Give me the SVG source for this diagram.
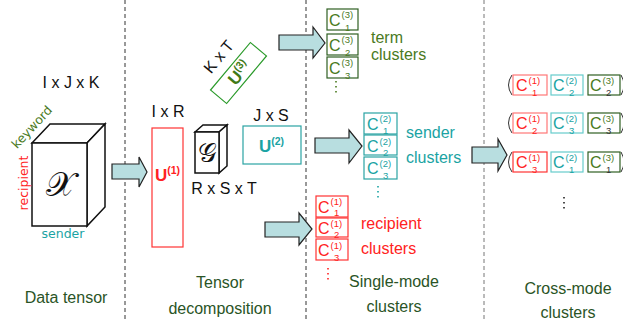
<svg xmlns="http://www.w3.org/2000/svg" width="623" height="321" viewBox="0 0 623 321">
<style>
text{font-family:"Liberation Sans",Arial,sans-serif}
.sep{stroke:#333;stroke-width:1;stroke-dasharray:4 3;fill:none}
.arr{fill:#b8dee0;stroke:#222;stroke-width:1.2}
.dim{font-size:16px;fill:#111}
.lbl{font-size:16px;fill:#2a5426;text-anchor:middle}
.edge{stroke:#111;stroke-width:1.5;fill:#fff}
.c{font-size:16px}
.s{font-size:9.5px}
.red{fill:#f22;stroke:none}
.teal{fill:#1aa3a3;stroke:none}
.grn{fill:#4a7a1e;stroke:none}
.bred{fill:#fff;stroke:#f33;stroke-width:1.2}
.bteal{fill:#fff;stroke:#2aa3a3;stroke-width:1.2}
.bgrn{fill:#fff;stroke:#2f5f22;stroke-width:1.2}
.dots{stroke-width:1.6;stroke-dasharray:1.6 3.4;fill:none}
.hand{font-family:"DejaVu Sans",sans-serif;font-size:12.5px}
.ub{font-size:17px;font-weight:bold}
</style>

<g id="separators">
<line class="sep" x1="125" y1="0" x2="125" y2="321"/>
<line class="sep" x1="306" y1="0" x2="306" y2="321"/>
<line class="sep" x1="484" y1="0" x2="484" y2="321" style="stroke:#777"/>
</g>

<g id="data-tensor">
<text class="dim" x="71" y="88" text-anchor="middle">I x J x K</text>
<polygon class="edge" points="32,143 50,124 105,124 87,143"/>
<polygon class="edge" points="87,143 105,124 105,207 87,226"/>
<rect class="edge" x="32" y="143" width="55" height="83"/>
<text x="60" y="196" text-anchor="middle" style="font-family:'DejaVu Serif',serif;font-size:34px;fill:#111">𝒳</text>
<text class="hand" transform="translate(35,130) rotate(-47)" text-anchor="middle" style="fill:#4a7a1e">keyword</text>
<text class="hand" transform="translate(28,183) rotate(-90)" text-anchor="middle" style="fill:#f22">recipient</text>
<text class="hand" x="63" y="238" text-anchor="middle" style="fill:#1aa3a3">sender</text>
</g>

<g id="u1">
<text class="dim" x="168" y="117" text-anchor="middle">I x R</text>
<rect x="152" y="128" width="31" height="119" fill="#fff" stroke="#f33" stroke-width="1.2"/>
<text x="155" y="181" class="ub" style="fill:#f22">U<tspan style="font-size:10.5px" dy="-7">(1)</tspan></text>
</g>

<g id="core">
<polygon class="edge" points="195,132 203,125 227,125 219,132"/>
<polygon class="edge" points="219,132 227,125 227,166 219,173"/>
<rect class="edge" x="195" y="132" width="24" height="41"/>
<text x="207" y="162" text-anchor="middle" style="font-family:'DejaVu Serif',serif;font-size:26px;fill:#111">𝒢</text>
<text class="dim" x="224" y="194" text-anchor="middle">R x S x T</text>
</g>

<g id="u2">
<text class="dim" x="271" y="121" text-anchor="middle">J x S</text>
<rect x="243" y="126" width="58" height="38" fill="#fff" stroke="#2aa3a3" stroke-width="1.2"/>
<text x="259" y="152" class="ub" style="fill:#1aa3a3">U<tspan style="font-size:10.5px" dy="-7">(2)</tspan></text>
</g>

<g id="u3">
<text class="dim" transform="translate(219,57) rotate(-50)" text-anchor="middle" dy="5">K x T</text>
<g transform="translate(238.5,73) rotate(-50)">
<rect x="-31" y="-10.5" width="62" height="21" fill="#fff" stroke="#2a9a2a" stroke-width="1.2"/>
<text x="-12" y="6.5" class="ub" style="fill:#3f7a16">U<tspan style="font-size:10.5px" dy="-7">(3)</tspan></text>
</g>
</g>

<g id="term-clusters">
<g transform="translate(327,9)"><rect class="bgrn" width="31" height="21"/><text class="grn"><tspan class="c" x="2" y="17">C</tspan><tspan class="s" x="14.5" y="9">(3)</tspan><tspan class="s" x="18" y="21.5">1</tspan></text></g>
<g transform="translate(327,34)"><rect class="bgrn" width="31" height="21"/><text class="grn"><tspan class="c" x="2" y="17">C</tspan><tspan class="s" x="14.5" y="9">(3)</tspan><tspan class="s" x="18" y="21.5">2</tspan></text></g>
<g transform="translate(327,57)"><rect class="bgrn" width="31" height="21"/><text class="grn"><tspan class="c" x="2" y="17">C</tspan><tspan class="s" x="14.5" y="9">(3)</tspan><tspan class="s" x="18" y="21.5">3</tspan></text></g>
<line class="dots" x1="336" y1="81" x2="336" y2="94" stroke="#4a7a1e"/>
<text x="371" y="43" style="font-size:16px;fill:#4a7a1e">term</text>
<text x="371" y="60" style="font-size:16px;fill:#4a7a1e">clusters</text>
</g>

<g id="sender-clusters">
<g transform="translate(364,113)"><rect class="bteal" width="33" height="21"/><text class="teal"><tspan class="c" x="3" y="17">C</tspan><tspan class="s" x="15.5" y="9">(2)</tspan><tspan class="s" x="19" y="21">1</tspan></text></g>
<g transform="translate(364,135)"><rect class="bteal" width="33" height="20"/><text class="teal"><tspan class="c" x="3" y="17">C</tspan><tspan class="s" x="15.5" y="9.5">(2)</tspan><tspan class="s" x="19" y="21">2</tspan></text></g>
<g transform="translate(364,157)"><rect class="bteal" width="33" height="22"/><text class="teal"><tspan class="c" x="3" y="17">C</tspan><tspan class="s" x="15.5" y="9.5">(2)</tspan><tspan class="s" x="19" y="21.5">3</tspan></text></g>
<line class="dots" x1="378" y1="186" x2="378" y2="199" stroke="#1aa3a3"/>
<text x="406" y="138" style="font-size:16px;fill:#1aa3a3">sender</text>
<text x="406" y="163" style="font-size:16px;fill:#1aa3a3">clusters</text>
</g>

<g id="recipient-clusters">
<g transform="translate(316,196)"><rect class="bred" width="32" height="21"/><text class="red"><tspan class="c" x="2" y="17">C</tspan><tspan class="s" x="14.5" y="9">(1)</tspan><tspan class="s" x="18" y="20">1</tspan></text></g>
<g transform="translate(316,218)"><rect class="bred" width="32" height="19"/><text class="red"><tspan class="c" x="2" y="16">C</tspan><tspan class="s" x="14.5" y="9">(1)</tspan><tspan class="s" x="18" y="20">2</tspan></text></g>
<g transform="translate(316,239)"><rect class="bred" width="32" height="21"/><text class="red"><tspan class="c" x="2" y="17">C</tspan><tspan class="s" x="14.5" y="9.5">(1)</tspan><tspan class="s" x="18" y="21.5">3</tspan></text></g>
<line class="dots" x1="328" y1="268" x2="328" y2="281" stroke="#f22"/>
<text x="361" y="229" style="font-size:16px;fill:#f22">recipient</text>
<text x="361" y="254" style="font-size:16px;fill:#f22">clusters</text>
</g>

<g id="cross-mode-clusters">
<g transform="translate(0,75)">
<path d="M512 0 Q505 10 512 20" fill="none" stroke="#333" stroke-width="1"/>
<path d="M621 0 Q627 10 621 20" fill="none" stroke="#333" stroke-width="1"/>
<g transform="translate(513,0)"><rect class="bred" width="34" height="20" style="stroke:#f77"/><text class="red"><tspan class="c" x="3" y="16">C</tspan><tspan class="s" x="15.5" y="8.5">(1)</tspan><tspan class="s" x="19" y="20.5">1</tspan></text></g>
<g transform="translate(551,0)"><rect class="bteal" width="32" height="20" style="stroke:#6cc"/><text class="teal"><tspan class="c" x="2" y="16">C</tspan><tspan class="s" x="14.5" y="8.5">(2)</tspan><tspan class="s" x="18" y="20.5">2</tspan></text></g>
<g transform="translate(588,0)"><rect class="bgrn" width="32" height="20"/><text class="grn"><tspan class="c" x="2" y="16">C</tspan><tspan class="s" x="14.5" y="8.5">(3)</tspan><tspan class="s" x="18" y="20.5" style="fill:#333">2</tspan></text></g>
</g>
<g transform="translate(0,113)">
<path d="M512 0 Q505 10 512 20" fill="none" stroke="#333" stroke-width="1"/>
<path d="M621 0 Q627 10 621 20" fill="none" stroke="#333" stroke-width="1"/>
<g transform="translate(513,0)"><rect class="bred" width="34" height="20" style="stroke:#f77"/><text class="red"><tspan class="c" x="3" y="16">C</tspan><tspan class="s" x="15.5" y="8.5">(1)</tspan><tspan class="s" x="19" y="20.5">2</tspan></text></g>
<g transform="translate(551,0)"><rect class="bteal" width="32" height="20" style="stroke:#6cc"/><text class="teal"><tspan class="c" x="2" y="16">C</tspan><tspan class="s" x="14.5" y="8.5">(2)</tspan><tspan class="s" x="18" y="20.5">3</tspan></text></g>
<g transform="translate(588,0)"><rect class="bgrn" width="32" height="20"/><text class="grn"><tspan class="c" x="2" y="16">C</tspan><tspan class="s" x="14.5" y="8.5">(3)</tspan><tspan class="s" x="18" y="20.5" style="fill:#333">3</tspan></text></g>
</g>
<g transform="translate(0,152)">
<path d="M512 0 Q505 10 512 20" fill="none" stroke="#333" stroke-width="1"/>
<path d="M621 0 Q627 10 621 20" fill="none" stroke="#333" stroke-width="1"/>
<g transform="translate(513,0)"><rect class="bred" width="34" height="20"/><text class="red"><tspan class="c" x="3" y="16">C</tspan><tspan class="s" x="15.5" y="8.5">(1)</tspan><tspan class="s" x="19" y="20.5">3</tspan></text></g>
<g transform="translate(551,0)"><rect class="bteal" width="32" height="20" style="stroke:#6cc"/><text class="teal"><tspan class="c" x="2" y="16">C</tspan><tspan class="s" x="14.5" y="8.5">(2)</tspan><tspan class="s" x="18" y="20.5">1</tspan></text></g>
<g transform="translate(588,0)"><rect class="bgrn" width="32" height="20"/><text class="grn"><tspan class="c" x="2" y="16">C</tspan><tspan class="s" x="14.5" y="8.5">(3)</tspan><tspan class="s" x="18" y="20.5" style="fill:#333">1</tspan></text></g>
</g>
<line class="dots" x1="564" y1="197" x2="564" y2="209" stroke="#222"/>
</g>

<g id="connectors">
<polygon class="arr" points="112,164 139,164 139,157 147,172 139,187 139,179 112,179"/>
<polygon class="arr" points="279,35 313,35 313,27 325,43 313,58 313,50 279,50"/>
<polygon class="arr" points="315,138 349,138 349,130 362,146 349,163 349,153 315,153"/>
<polygon class="arr" points="265,222 299,222 299,213 312,229 299,245 299,237 265,237"/>
<polygon class="arr" points="472,147 498,147 498,139 507,155 498,171 498,163 472,163"/>
</g>

<g id="section-labels">
<text class="lbl" x="66" y="303">Data tensor</text>
<text class="lbl" x="220" y="288">Tensor</text>
<text class="lbl" x="220" y="314">decomposition</text>
<text class="lbl" x="394" y="287">Single-mode</text>
<text class="lbl" x="394" y="312">clusters</text>
<text class="lbl" x="568" y="294">Cross-mode</text>
<text class="lbl" x="568" y="318">clusters</text>
</g>
</svg>
